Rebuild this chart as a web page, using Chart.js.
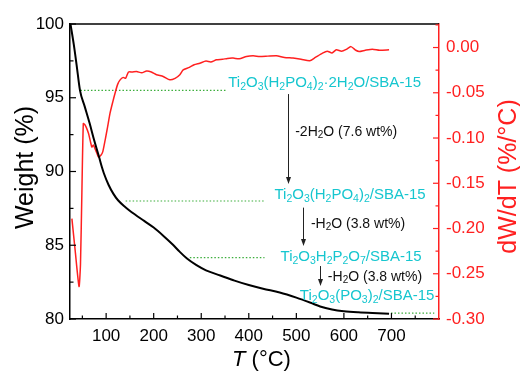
<!DOCTYPE html>
<html><head><meta charset="utf-8">
<script src="https://cdn.jsdelivr.net/npm/chart.js@4/dist/chart.umd.min.js"></script>
<style>html,body{margin:0;padding:0;background:#fff;}canvas{display:block;}</style>
</head><body>
<canvas id="c" width="520" height="372"></canvas>
<script>
// ---- data ----
const weightT   = [25, 32, 38, 45, 55, 65, 75, 85, 91, 95, 105, 115, 125, 140, 160, 180, 200, 220, 240, 255, 270, 290, 310, 340, 370, 400, 430, 465, 500, 530, 550, 575, 600, 630, 660, 695];
const weightPct = [100.0, 98.6, 97.2, 95.5, 94.4, 93.3, 92.1, 91.0, 90.3, 89.9, 89.1, 88.5, 88.05, 87.6, 87.1, 86.65, 86.2, 85.65, 85.05, 84.55, 84.1, 83.65, 83.3, 82.95, 82.6, 82.3, 82.05, 81.8, 81.45, 81.1, 80.85, 80.65, 80.53, 80.45, 80.4, 80.36];

const dtgT   = [28, 35, 43, 46, 49, 52, 55, 58, 63, 67, 70, 73, 76, 80, 84, 89, 93, 98, 103, 108, 114, 119, 124, 129, 136, 141, 147, 155, 164, 175, 185, 195, 206, 220, 234, 245, 255, 262, 275, 285, 297, 310, 320, 332, 345, 355, 367, 380, 395, 409, 423, 440, 458, 475, 493, 510, 528, 540, 555, 565, 575, 584, 595, 605, 615, 625, 632, 645, 660, 675, 695];
const dtgVal = [-0.189, -0.225, -0.264, -0.240, -0.160, -0.084, -0.085, -0.088, -0.095, -0.104, -0.110, -0.1076, -0.111, -0.116, -0.121, -0.119, -0.115, -0.102, -0.088, -0.073, -0.060, -0.050, -0.041, -0.036, -0.033, -0.034, -0.027, -0.027, -0.0265, -0.028, -0.026, -0.027, -0.030, -0.032, -0.0357, -0.034, -0.030, -0.0247, -0.022, -0.019, -0.0173, -0.015, -0.016, -0.0136, -0.013, -0.012, -0.0117, -0.0125, -0.010, -0.0092, -0.010, -0.0095, -0.009, -0.011, -0.0117, -0.013, -0.0147, -0.011, -0.0062, -0.004, -0.006, -0.0025, -0.004, -0.002, 0.001, -0.003, -0.0044, -0.003, -0.0018, -0.003, -0.0025];

const xTicks      = [100, 200, 300, 400, 500, 600, 700];
const xMinorTicks = [50, 150, 250, 350, 450, 550, 650, 750];
const yTicks      = [80, 85, 90, 95, 100];
const yMinorTicks = [82.5, 87.5, 92.5, 97.5];
const y2Ticks     = [-0.30, -0.25, -0.20, -0.15, -0.10, -0.05, 0.00];
const y2MinorTicks= [-0.275, -0.225, -0.175, -0.125, -0.075, -0.025, 0.025];

// dotted guide levels (weight %), with their T extents
const guideLevel = [95.5, 88.0, 84.16, 80.4];
const guideFromT = [46, 141, 276, 699];
const guideToT   = [352, 433, 433, 790];

// text labels ("_x" = subscript)
const phaseNames = ['Ti_2O_3(H_2PO_4)_2·2H_2O/SBA-15', 'Ti_2O_3(H_2PO_4)_2/SBA-15', 'Ti_2O_3H_2P_2O_7/SBA-15', 'Ti_2O_3(PO_3)_2/SBA-15'];
const lossNames  = ['-2H_2O (7.6 wt%)', '-H_2O (3.8 wt%)', '-H_2O (3.8 wt%)'];

// ---- annotation placement (data coordinates) ----
const phasePos = [[559.5, 96.09], [613, 88.47], [615.2, 84.27], [648.8, 81.63]];
const arrowPos = [[482.2, 95.25, 89.15], [513.8, 87.55, 84.95], [550, 83.59, 82.24]];
const lossPos  = [[497.6, 92.75], [530.6, 86.53], [566.3, 82.92]];

const FONT = '"Liberation Sans", Arial, sans-serif';
const RED = '#ff2020';
const CYAN = '#16c6cf';
const GREEN = '#3cae3c';

function pts(xs, ys) { return xs.map((x, i) => ({x: x, y: ys[i]})); }

function parseRich(s) {
  const segs = [];
  for (let i = 0; i < s.length; i++) {
    if (s[i] === '_') { segs.push({t: s[i + 1], sub: true}); i++; }
    else {
      const last = segs[segs.length - 1];
      if (last && !last.sub) last.t += s[i]; else segs.push({t: s[i], sub: false});
    }
  }
  return segs;
}
function drawRich(ctx, s, x, yMid, align, color, size, subSize) {
  const segs = parseRich(s);
  let w = 0;
  segs.forEach(g => { ctx.font = (g.sub ? subSize : size) + 'px ' + FONT; w += ctx.measureText(g.t).width; });
  let cx = align === 'center' ? x - w / 2 : x;
  const base = yMid + 0.358 * size;
  ctx.fillStyle = color; ctx.textAlign = 'left'; ctx.textBaseline = 'alphabetic';
  segs.forEach(g => {
    ctx.font = (g.sub ? subSize : size) + 'px ' + FONT;
    ctx.fillText(g.t, cx, g.sub ? base + 2.5 : base);
    cx += ctx.measureText(g.t).width;
  });
}

const decor = {
  id: 'decor',
  afterDatasetsDraw(chart) {
    const ctx = chart.ctx, a = chart.chartArea;
    const sx = chart.scales.x, sy = chart.scales.y, sy2 = chart.scales.y2;
    ctx.save();
    // top frame
    ctx.strokeStyle = '#000'; ctx.lineWidth = 1.5;
    ctx.beginPath(); ctx.moveTo(a.left, a.top); ctx.lineTo(a.right, a.top); ctx.stroke();
    // inward ticks
    ctx.lineWidth = 1.2;
    const tick = (x1, y1, x2, y2) => { ctx.beginPath(); ctx.moveTo(x1, y1); ctx.lineTo(x2, y2); ctx.stroke(); };
    ctx.strokeStyle = '#000';
    xTicks.forEach(v => { const p = sx.getPixelForValue(v); tick(p, a.bottom, p, a.bottom - 6); });
    xMinorTicks.forEach(v => { const p = sx.getPixelForValue(v); tick(p, a.bottom, p, a.bottom - 3.5); });
    yTicks.forEach(v => { const p = sy.getPixelForValue(v); tick(a.left, p, a.left + 6, p); });
    yMinorTicks.forEach(v => { const p = sy.getPixelForValue(v); tick(a.left, p, a.left + 3.5, p); });
    ctx.strokeStyle = RED;
    y2Ticks.forEach(v => { const p = sy2.getPixelForValue(v); tick(a.right, p, a.right - 6, p); });
    y2MinorTicks.forEach(v => { const p = sy2.getPixelForValue(v); tick(a.right, p, a.right - 3.5, p); });

    // arrows
    ctx.strokeStyle = '#222'; ctx.fillStyle = '#222'; ctx.lineWidth = 1;
    arrowPos.forEach(([t, w1, w2]) => {
      const x = Math.round(sx.getPixelForValue(t)) + 0.5;
      const y1 = sy.getPixelForValue(w1), y2 = sy.getPixelForValue(w2);
      tick(x, y1, x, y2 - 6);
      ctx.beginPath(); ctx.moveTo(x - 2.5, y2 - 7); ctx.lineTo(x + 2.5, y2 - 7); ctx.lineTo(x, y2); ctx.closePath(); ctx.fill();
    });
    // labels
    phaseNames.forEach((s, i) => drawRich(ctx, s, sx.getPixelForValue(phasePos[i][0]), sy.getPixelForValue(phasePos[i][1]), 'center', CYAN, 15, 10.5));
    lossNames.forEach((s, i) => drawRich(ctx, s, sx.getPixelForValue(lossPos[i][0]), sy.getPixelForValue(lossPos[i][1]), 'left', '#111', 14, 10));

    // axis titles
    ctx.fillStyle = '#000'; ctx.textBaseline = 'alphabetic';
    ctx.save(); ctx.translate(33, (a.top + a.bottom) / 2 - 4); ctx.rotate(-Math.PI / 2);
    ctx.font = '25px ' + FONT; ctx.textAlign = 'center'; ctx.fillText('Weight (%)', 0, 0); ctx.restore();

    ctx.save(); ctx.fillStyle = RED; ctx.translate(516, (a.top + a.bottom) / 2 + 5); ctx.rotate(-Math.PI / 2);
    ctx.font = '25px ' + FONT; ctx.textAlign = 'center'; ctx.fillText('dW/dT (%/°C)', 0, 0); ctx.restore();

    ctx.textAlign = 'left';
    ctx.font = 'italic 22px ' + FONT;
    const tw = ctx.measureText('T').width;
    ctx.font = '22px ' + FONT;
    const rw = ctx.measureText(' (°C)').width;
    const x0 = (a.left + a.right) / 2 + 7 - (tw + rw) / 2;
    ctx.font = 'italic 22px ' + FONT; ctx.fillText('T', x0, 366);
    ctx.font = '22px ' + FONT; ctx.fillText(' (°C)', x0 + tw, 366);
    ctx.restore();
  }
};

const guideSets = guideLevel.map((lv, i) => ({
  data: [{x: guideFromT[i], y: lv}, {x: guideToT[i], y: lv}],
  borderColor: GREEN, borderWidth: 1.2, borderDash: [1.5, 2], pointRadius: 0, yAxisID: 'y', order: 3
}));

new Chart(document.getElementById('c'), {
  type: 'line',
  data: {
    datasets: [
      ...guideSets,
      {data: pts(dtgT, dtgVal), borderColor: RED, borderWidth: 1.5, pointRadius: 0, yAxisID: 'y2', tension: 0.2, order: 2},
      {data: pts(weightT, weightPct), borderColor: '#000', borderWidth: 2, pointRadius: 0, yAxisID: 'y', cubicInterpolationMode: 'monotone', order: 1}
    ]
  },
  options: {
    responsive: false, animation: false, devicePixelRatio: 1,
    layout: {padding: {top: 24, left: 0, right: 0, bottom: 0}},
    plugins: {legend: {display: false}, tooltip: {enabled: false}},
    scales: {
      x: {
        type: 'linear', min: 24, max: 800,
        afterBuildTicks: s => { s.ticks = xTicks.map(v => ({value: v})); },
        afterFit: s => { s.height = 53; },
        grid: {display: false, drawTicks: false},
        border: {display: true, color: '#000', width: 1.5},
        ticks: {color: '#000', font: {family: FONT, size: 17}, padding: 7, maxRotation: 0}
      },
      y: {
        type: 'linear', position: 'left', min: 80, max: 100,
        afterBuildTicks: s => { s.ticks = yTicks.map(v => ({value: v})); },
        afterFit: s => { s.width = 70; },
        grid: {display: false, drawTicks: false},
        border: {display: true, color: '#000', width: 1.5},
        ticks: {color: '#000', font: {family: FONT, size: 17}, padding: 6}
      },
      y2: {
        type: 'linear', position: 'right', min: -0.30, max: 0.026,
        afterBuildTicks: s => { s.ticks = y2Ticks.map(v => ({value: v})); },
        afterFit: s => { s.width = 81; },
        grid: {display: false, drawTicks: false},
        border: {display: true, color: RED, width: 1.5},
        ticks: {color: RED, font: {family: FONT, size: 17}, padding: 7, callback: v => (Math.abs(v) < 1e-9 ? 0 : v).toFixed(2)}
      }
    }
  },
  plugins: [decor]
});
</script>
</body></html>
